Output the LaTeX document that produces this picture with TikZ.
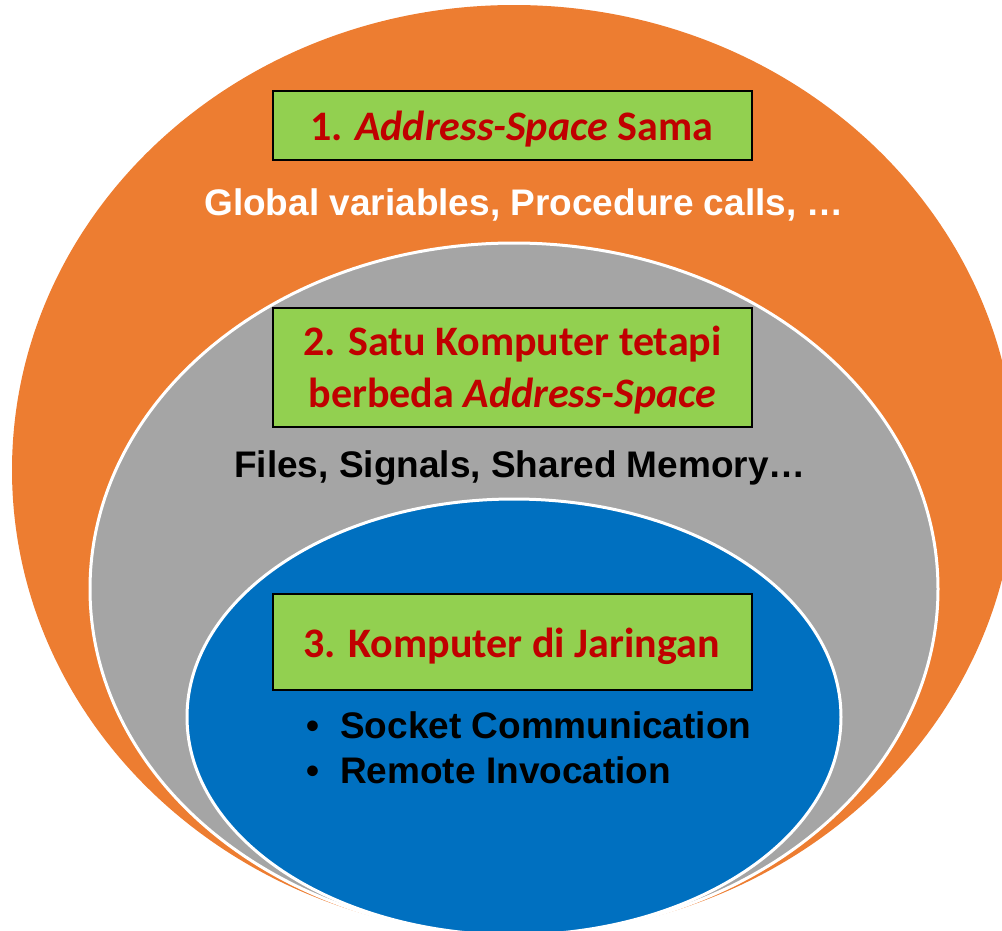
\documentclass[tikz,border=0pt]{standalone}
\usepackage{fontspec}
\setmainfont{Liberation Sans}
\newfontfamily\calibri{Carlito}
\definecolor{ringorange}{HTML}{ED7D31}
\definecolor{ringgray}{HTML}{A5A5A5}
\definecolor{ringblue}{HTML}{0070C0}
\definecolor{boxgreen}{HTML}{92D050}
\definecolor{titlered}{HTML}{C00000}
\tikzset{
  ring/.style={line width=3pt, draw=white},
  titlebox/.style={draw=black, line width=2pt, fill=boxgreen,
    minimum width=479pt, inner sep=0pt},
  titletext/.style={anchor=base, inner sep=0pt, text=titlered,
    font=\calibri\bfseries\fontsize{42}{52}\selectfont},
  bodytext/.style={anchor=base, inner sep=0pt, font=\bfseries\fontsize{37}{44}\selectfont},
  bullettext/.style={anchor=base west, inner sep=0pt, font=\bfseries\fontsize{37}{44}\selectfont}
}
\begin{document}
\begin{tikzpicture}[x=1pt,y=-1pt]
\useasboundingbox (0,0) rectangle (1002,930);
\clip (0,0) rectangle (1002,930);
% nested rings, all touching at the bottom
\fill[ringorange] (514,470) ellipse [x radius=502, y radius=465];
\filldraw[ring, fill=ringgray] (514,589) ellipse [x radius=424, y radius=346];
\filldraw[ring, fill=ringblue] (514,717) ellipse [x radius=327, y radius=218];
% level 1
\node[titlebox, minimum height=69pt] (t1) at (512.5,125.5) {};
\node[titletext] (t1l) at (511.5,140) {1. \textit{Address-Space} Sama};
\node[bodytext, text=white] (g1) at (524,215) {Global variables, Procedure calls, …};
% level 2
\node[titlebox, minimum height=119pt] (t2) at (512.5,367.5) {};
\node[titletext] (t2a) at (512.5,355) {2. Satu Komputer tetapi};
\node[titletext] (t2b) at (512.5,407) {berbeda \textit{Address-Space}};
\node[bodytext] (g2) at (520,477) {Files, Signals, Shared Memory…};
% level 3
\node[titlebox, minimum height=96pt] (t3) at (512.5,642) {};
\node[titletext] (t3l) at (511.5,657) {3. Komputer di Jaringan};
\node[bullettext] (d1) at (306,738) {•};
\node[bullettext] (b1) at (340,738) {Socket Communication};
\node[bullettext] (d2) at (306,783) {•};
\node[bullettext] (b2) at (340,783) {Remote Invocation};
\end{tikzpicture}
\end{document}
